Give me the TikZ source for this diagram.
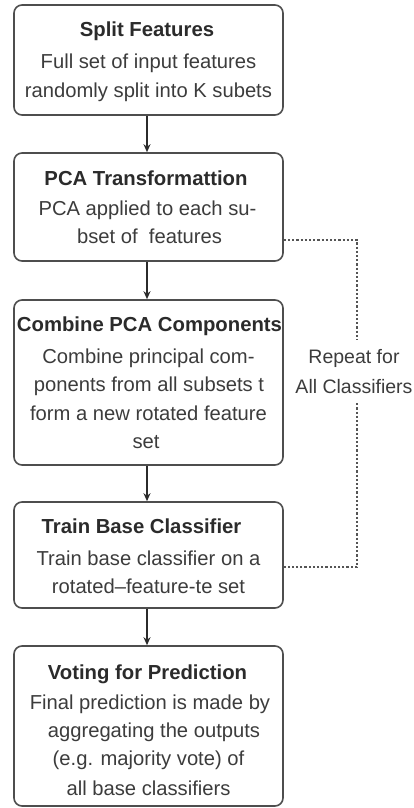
\documentclass[tikz,border=0pt]{standalone}
\usepackage{fontspec}
\setmainfont{Liberation Sans}
\usetikzlibrary{arrows.meta}
\definecolor{ink}{HTML}{2B2B2B}
\definecolor{bodyink}{HTML}{3C3C3C}
\definecolor{frame}{HTML}{4E4E4E}
\definecolor{loopgray}{HTML}{555555}
\begin{document}
\begin{tikzpicture}[x=1pt,y=-1pt,
  stage/.style={draw=frame, line width=1.6pt, rounded corners=8pt,
    minimum width=269pt, inner sep=0pt, fill=white},
  head/.style={anchor=base, inner sep=0pt, text=ink,
    font=\bfseries\fontsize{20.3}{24}\selectfont},
  body/.style={anchor=base, inner sep=0pt, text=bodyink,
    font=\fontsize{20.2}{24}\selectfont},
  flow/.style={draw=ink, line width=1.2pt, -{Stealth[length=8pt,width=7pt]}},
  loopline/.style={draw=loopgray, line width=1.2pt, dash pattern=on 2.2pt off 2pt},
  note/.style={align=center, inner sep=0pt, text=bodyink,
    font=\fontsize{19.5}{30}\selectfont, minimum height=63pt}]
\useasboundingbox (0,0) rectangle (414,808);

% stage frames
\node[stage, minimum height=110pt] (b1) at (148.5,60) {};
\node[stage, minimum height=108pt] (b2) at (148.5,207) {};
\node[stage, minimum height=165pt] (b3) at (148.5,382.5) {};
\node[stage, minimum height=106pt] (b4) at (148.5,555) {};
\node[stage, minimum height=160pt] (b5) at (148.5,726) {};

% stage 1
\node[head] (h1) at (147,37) {Split Features};
\node[body] (d1a) at (148.5,68) {Full set of input features};
\node[body] (d1b) at (148.5,97) {randomly split into K subets};

% stage 2
\node[head] (h2) at (146,185) {PCA Transformattion};
\node[body] (d2a) at (147.5,215) {PCA applied to each su-};
\node[body] (d2b) at (149.5,243) {bset of\ \ features};

% stage 3
\node[head] (h3) at (149.5,331) {Combine PCA Components};
\node[body] (d3a) at (148.5,363) {Combine principal com-};
\node[body] (d3b) at (149,391) {ponents from all subsets t};
\node[body] (d3c) at (148.5,420) {form a new rotated feature};
\node[body] (d3d) at (146,448) {set};

% stage 4
\node[head] (h4) at (141.5,533) {Train Base Classifier};
\node[body] (d4a) at (148.5,565) {Train base classifier on a};
\node[body] (d4b) at (148.5,593) {rotated–feature-te set};

% stage 5
\node[head] (h5) at (147.5,679) {Voting for Prediction};
\node[body] (d5a) at (150,709) {Final prediction is made by};
\node[body] (d5b) at (154,737) {aggregating the outputs};
\node[body] (d5c) at (148.5,765) {(e.g. majority vote) of};
\node[body] (d5d) at (148.5,795) {all base classifiers};

% main flow
\draw[flow] ([xshift=-1.5pt]b1.south) -- ([xshift=-1.5pt]b2.north);
\draw[flow] ([xshift=-1.5pt]b2.south) -- ([xshift=-1.5pt]b3.north);
\draw[flow] ([xshift=-1.5pt]b3.south) -- ([xshift=-1.5pt]b4.north);
\draw[flow] ([xshift=-1.5pt]b4.south) -- ([xshift=-1.5pt]b5.north);

% repeat loop
\node[note] (rep) at (354,371.5) {Repeat for\\All Classifiers};
\draw[loopline] ([yshift=-33pt]b2.east) -| ([xshift=3pt]rep.north);
\draw[loopline] ([xshift=3pt]rep.south) |- ([yshift=-12pt]b4.east);
\end{tikzpicture}
\end{document}
